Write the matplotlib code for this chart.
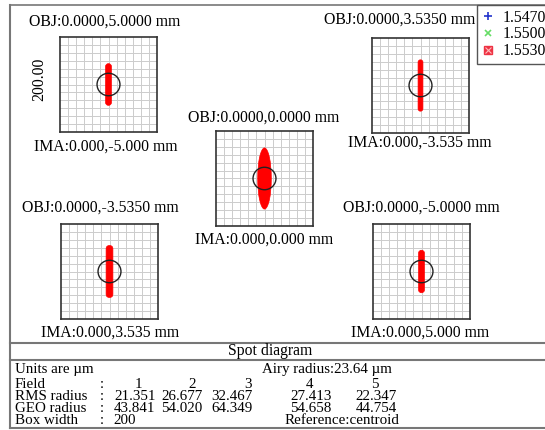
import matplotlib
matplotlib.use("Agg")
import matplotlib.pyplot as plt
import matplotlib.patches as mpatches
from matplotlib.lines import Line2D

plt.rcParams['font.family'] = ['Liberation Serif', 'DejaVu Serif']

# ── Daten ────────────────────────────────────────────────────────────────────
fields      = [1, 2, 3, 4, 5]
obj_labels  = ["OBJ:0.0000,5.0000 mm", "OBJ:0.0000,3.5350 mm", "OBJ:0.0000,0.0000 mm",
               "OBJ:0.0000,-3.5350 mm", "OBJ:0.0000,-5.0000 mm"]
ima_labels  = ["IMA:0.000,-5.000 mm", "IMA:0.000,-3.535 mm", "IMA:0.000,0.000 mm",
               "IMA:0.000,3.535 mm", "IMA:0.000,5.000 mm"]
rms_radius  = [21.351, 26.677, 32.467, 27.413, 22.347]
geo_radius  = [43.841, 54.020, 64.349, 54.658, 44.754]
spot_width  = [12, 10, 28, 14, 12]          # µm
spot_shape  = ["bar", "bar", "ellipse", "bar", "bar"]
wavelengths = ["1.5470", "1.5500", "1.5530"]
airy_radius = 23.64
box_width   = 200

W, H = 545, 430
C_GRID = "#cccccc"
C_BOX = "#333333"
C_FRAME = "#777777"
FS = 11.3
FS_T = 10.8   # Tabelle

fig = plt.figure(figsize=(W/100, H/100), dpi=100, facecolor='white')

# Overlay in Pixelkoordinaten
ax = fig.add_axes([0, 0, 1, 1])
ax.set_xlim(0, W); ax.set_ylim(H, 0); ax.axis('off')

# Rahmen
ax.plot([10, 10], [5, 428], color=C_FRAME, lw=1.5)
ax.plot([10, W], [5, 5], color=C_FRAME, lw=1.2)
ax.plot([10, W], [428, 428], color=C_FRAME, lw=1.5)
ax.plot([10, W], [342.5, 342.5], color=C_FRAME, lw=1.5)
ax.plot([10, W], [359.5, 359.5], color=C_FRAME, lw=1.5)
ax.text(270, 351, "Spot diagram", ha='center', va='center', fontsize=FS)

# ── Spot-Boxen ───────────────────────────────────────────────────────────────
# (x0, y0) linke obere Ecke in Pixel, Beschriftungspositionen
boxes = [(60, 37), (372, 38), (216, 131), (61, 224), (373, 224)]
BW, BH = 97, 95
obj_pos = [(105, 22), (400, 20), (264, 118), (100, 208), (421, 208)]
ima_pos = [(106, 147), (420, 143), (264, 240), (110, 333), (420, 333)]

for i, f in enumerate(fields):
    x0, y0 = boxes[i]
    sa = fig.add_axes([x0/W, 1-(y0+BH)/H, BW/W, BH/H])
    half = box_width/2
    sa.set_xlim(-half, half); sa.set_ylim(-half, half)
    sa.set_xticks([]); sa.set_yticks([])
    for sp in sa.spines.values():
        sp.set_color(C_BOX); sp.set_linewidth(1.2)
    n = 12
    for k in range(1, n):
        g = -half + k*box_width/n
        sa.axvline(g, color=C_GRID, lw=0.7, zorder=0)
        sa.axhline(g, color=C_GRID, lw=0.7, zorder=0)
    w = spot_width[i]; h = 2*geo_radius[i]
    if spot_shape[i] == "ellipse":
        sa.add_patch(mpatches.Ellipse((0, 0), w, h, facecolor='red',
                     edgecolor='red', lw=0.5, zorder=2))
    else:
        sa.add_patch(mpatches.FancyBboxPatch((-w/2, -h/2), w, h,
                     boxstyle=f"round,pad=0,rounding_size={w/2}",
                     facecolor='red', edgecolor='red', lw=0.5, zorder=2))
    sa.add_patch(mpatches.Circle((0, 0), airy_radius, facecolor='none',
                 edgecolor='#222222', lw=1.0, zorder=3))
    ax.text(obj_pos[i][0], obj_pos[i][1], obj_labels[i], ha='center', va='center', fontsize=FS)
    ax.text(ima_pos[i][0], ima_pos[i][1], ima_labels[i], ha='center', va='center', fontsize=FS)

ax.text(39, 79, f"{box_width:.2f}", rotation=90, ha='center', va='center', fontsize=FS)

# ── Tabelle ──────────────────────────────────────────────────────────────────
rows_y = [369.5, 384, 396, 408, 420]
ax.text(15, rows_y[0], "Units are µm", ha='left', va='center', fontsize=FS_T)
ax.text(262, rows_y[0], f"Airy radius:{airy_radius:.2f} µm", ha='left', va='center', fontsize=FS_T)
labels = ["Field", "RMS radius", "GEO radius", "Box width"]
for lab, y in zip(labels, rows_y[1:]):
    ax.text(15, y, lab, ha='left', va='center', fontsize=FS_T)
    ax.text(102, y, ":", ha='center', va='center', fontsize=FS_T)
head_x = [138, 192, 248, 310, 375]
val_x = [135, 182, 232, 311, 376]
for i, f in enumerate(fields):
    ax.text(head_x[i], rows_y[1], str(f), ha='center', va='center', fontsize=FS_T)
    ax.text(val_x[i], rows_y[2], f"{rms_radius[i]:.3f}", ha='center', va='center', fontsize=FS_T)
    ax.text(val_x[i], rows_y[3], f"{geo_radius[i]:.3f}", ha='center', va='center', fontsize=FS_T)
ax.text(113, rows_y[4], str(box_width), ha='left', va='center', fontsize=FS_T)
ax.text(285, rows_y[4], "Reference:centroid", ha='left', va='center', fontsize=FS_T)

# ── Legende ──────────────────────────────────────────────────────────────────
handles = [
    Line2D([], [], ls='none', marker='+', color='#2233cc', ms=6, mew=1.2),
    Line2D([], [], ls='none', marker='x', color='#66dd66', ms=5, mew=1.2),
    (Line2D([], [], ls='none', marker='s', color='#ee3344', ms=6),
     Line2D([], [], ls='none', marker='x', color='#ffbbbb', ms=4, mew=0.8)),
]
leg = fig.legend(handles, wavelengths, loc='upper left',
                 bbox_to_anchor=(477/W, 1-5/H), fontsize=FS, frameon=True,
                 fancybox=False, edgecolor='#555555', framealpha=1,
                 labelspacing=0.05, handlelength=0.8, handletextpad=0.5,
                 borderpad=0.3, borderaxespad=0)
leg.get_frame().set_linewidth(1.0)

fig.savefig("out.png", dpi=100)
